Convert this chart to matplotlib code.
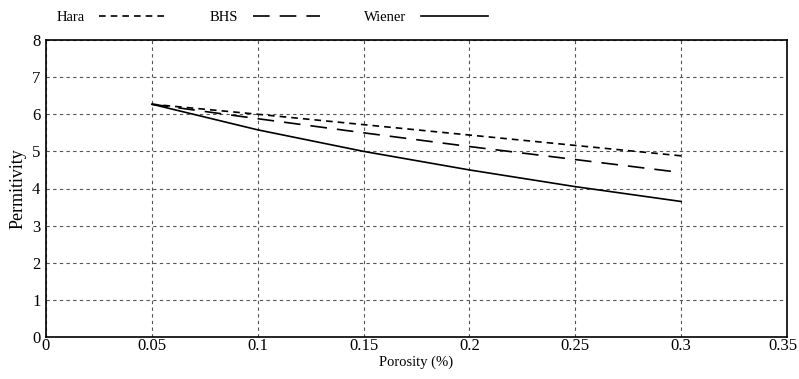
import matplotlib
matplotlib.use("Agg")
import matplotlib.pyplot as plt
from matplotlib.transforms import ScaledTranslation

plt.rcParams["font.family"] = ["Liberation Serif", "DejaVu Serif"]
plt.rcParams["font.size"] = 12

porosity = [0.05, 0.1, 0.15, 0.2, 0.25, 0.3]
hara = [6.27, 6.00, 5.72, 5.44, 5.16, 4.88]
bhs = [6.27, 5.88, 5.50, 5.13, 4.78, 4.43]
wiener = [6.27, 5.58, 5.00, 4.50, 4.05, 3.65]

xticks = [0, 0.05, 0.1, 0.15, 0.2, 0.25, 0.3, 0.35]
xticklabels = ["0", "0.05", "0.1", "0.15", "0.2", "0.25", "0.3", "0.35"]

fig = plt.figure(figsize=(7.99, 3.79), dpi=100)
ax = fig.add_axes([46 / 799, 1 - 337 / 379, 741 / 799, 297 / 379])

l1, = ax.plot(porosity, hara, color="black", lw=1.2, dashes=(4, 3), label="Hara")
l2, = ax.plot(porosity, bhs, color="black", lw=1.2, dashes=(10, 6), label="BHS")
l3, = ax.plot(porosity, wiener, color="black", lw=1.2, label="Wiener")

ax.set_xlim(0, 0.35)
ax.set_ylim(0, 8)
ax.set_xticks(xticks)
ax.set_xticklabels(xticklabels)
ax.set_yticks(range(0, 9))
ax.tick_params(axis="y", length=0, pad=4)
ax.tick_params(axis="x", length=0, pad=0.5)
ax.grid(True, color="#555555", linestyle=(0, (3, 3)), lw=0.8)
for s in ax.spines.values():
    s.set_linewidth(1.2)

# last label nudged left so it stays inside the figure, as in the original
last = ax.get_xticklabels()[-1]
last.set_transform(last.get_transform() + ScaledTranslation(-3 / 72, 0, fig.dpi_scale_trans))

ax.set_xlabel("Porosity (%)", fontsize=10.5, labelpad=1.5)
ax.set_ylabel("Permitivity", fontsize=13, labelpad=4)

fig.legend(handles=[l1, l2, l3], loc="center", bbox_to_anchor=(272 / 799, 1 - 17 / 379),
           ncol=3, frameon=False, markerfirst=False, fontsize=10.5, handlelength=4.6,
           columnspacing=3.0, handletextpad=1.0)

fig.savefig("out.png", dpi=100)
